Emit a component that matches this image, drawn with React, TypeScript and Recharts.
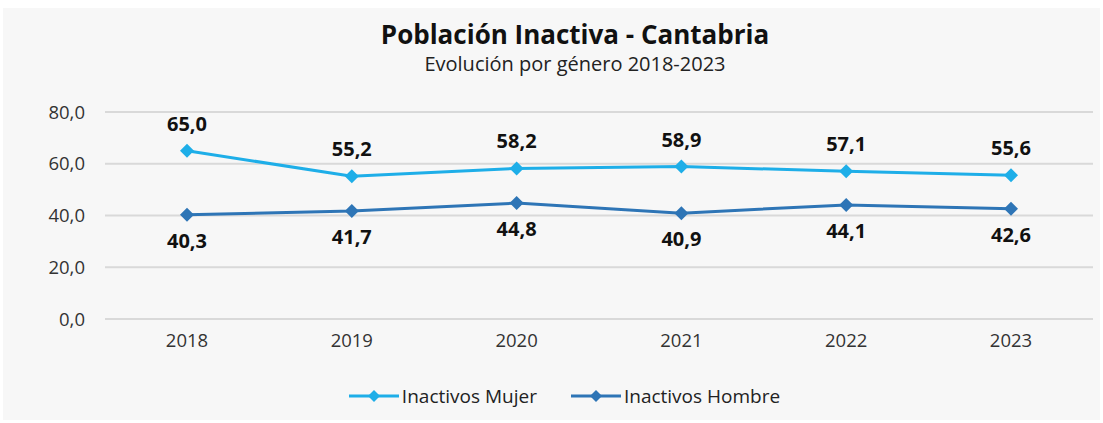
import React from 'react';
import { LineChart, Line, XAxis, YAxis, CartesianGrid, Legend, LabelList } from 'recharts';

const years = ['2018', '2019', '2020', '2021', '2022', '2023'];
const inactivosMujer = [65.0, 55.2, 58.2, 58.9, 57.1, 55.6];
const inactivosHombre = [40.3, 41.7, 44.8, 40.9, 44.1, 42.6];
const yTicks = [0, 20, 40, 60, 80];

const data = years.map((year, i) => ({
  year,
  mujer: inactivosMujer[i],
  hombre: inactivosHombre[i],
}));

const MUJER = '#1eaee8';
const HOMBRE = '#2e75b6';
const FONT = '"Open Sans", "Noto Sans", sans-serif';

const fmt = (v: number) => v.toFixed(1).replace('.', ',');

const Diamond = (color: string, r: number) => (props: any) => {
  const { cx, cy, index } = props;
  if (cx == null || cy == null) return <g key={index} />;
  return (
    <polygon
      key={index}
      points={`${cx},${cy - r} ${cx + r},${cy} ${cx},${cy + r} ${cx - r},${cy}`}
      fill={color}
    />
  );
};

const LegendContent = () => {
  const items = [
    { name: 'Inactivos Mujer', color: MUJER },
    { name: 'Inactivos Hombre', color: HOMBRE },
  ];
  return (
    <div style={{ display: 'flex', justifyContent: 'center', gap: 34, fontFamily: FONT, fontSize: 19, color: '#222', paddingLeft: 36, paddingTop: 2 }}>
      {items.map((it) => (
        <div key={it.name} style={{ display: 'flex', alignItems: 'center' }}>
          <svg width={50} height={14} style={{ marginRight: 3 }}>
            <line x1={0} y1={7} x2={50} y2={7} stroke={it.color} strokeWidth={3} />
            <polygon points="25,1 31,7 25,13 19,7" fill={it.color} />
          </svg>
          <span>{it.name}</span>
        </div>
      ))}
    </div>
  );
};

export default function App() {
  return (
    <div style={{ position: 'absolute', left: 0, top: 0, width: 1103, height: 423, background: '#fff' }}>
      <div style={{ position: 'absolute', left: 3, top: 8, width: 1097, height: 412, background: '#f7f7f7' }} />
      <div style={{ position: 'absolute', left: 0, top: 16, width: 1150, textAlign: 'center', fontFamily: FONT, fontWeight: 700, fontSize: 26, color: '#111' }}>
        Población Inactiva - Cantabria
      </div>
      <div style={{ position: 'absolute', left: 0, top: 50, width: 1150, textAlign: 'center', fontFamily: FONT, fontSize: 20, color: '#222' }}>
        Evolución por género 2018-2023
      </div>
      <div style={{ position: 'absolute', left: 0, top: 0 }}>
        <LineChart width={1103} height={423} data={data} margin={{ top: 112, right: 10, left: 0, bottom: 0 }}>
          <CartesianGrid vertical={false} stroke="#d9d9d9" strokeWidth={2} />
          <XAxis
            dataKey="year"
            axisLine={false}
            tickLine={false}
            tickSize={0}
            tickMargin={15}
            height={62}
            padding={{ left: 82, right: 82 }}
            tick={{ fill: '#333', fontSize: 18.5, fontFamily: FONT }}
            interval={0}
          />
          <YAxis
            domain={[0, 80]}
            ticks={yTicks}
            axisLine={false}
            tickLine={false}
            tickSize={0}
            tickMargin={20}
            width={105}
            tickFormatter={fmt}
            tick={{ fill: '#333', fontSize: 18.5, fontFamily: FONT }}
          />
          <Legend verticalAlign="bottom" height={42} content={<LegendContent />} />
          <Line
            type="linear"
            dataKey="mujer"
            name="Inactivos Mujer"
            stroke={MUJER}
            strokeWidth={3}
            dot={Diamond(MUJER, 7)}
            activeDot={false}
            isAnimationActive={false}
          >
            <LabelList dataKey="mujer" position="top" offset={20} formatter={(v: any) => fmt(Number(v))} style={{ fill: '#111', fontSize: 20, fontWeight: 700, fontFamily: FONT }} />
          </Line>
          <Line
            type="linear"
            dataKey="hombre"
            name="Inactivos Hombre"
            stroke={HOMBRE}
            strokeWidth={3}
            dot={Diamond(HOMBRE, 7)}
            activeDot={false}
            isAnimationActive={false}
          >
            <LabelList dataKey="hombre" position="bottom" offset={19} formatter={(v: any) => fmt(Number(v))} style={{ fill: '#111', fontSize: 20, fontWeight: 700, fontFamily: FONT }} />
          </Line>
        </LineChart>
      </div>
    </div>
  );
}
